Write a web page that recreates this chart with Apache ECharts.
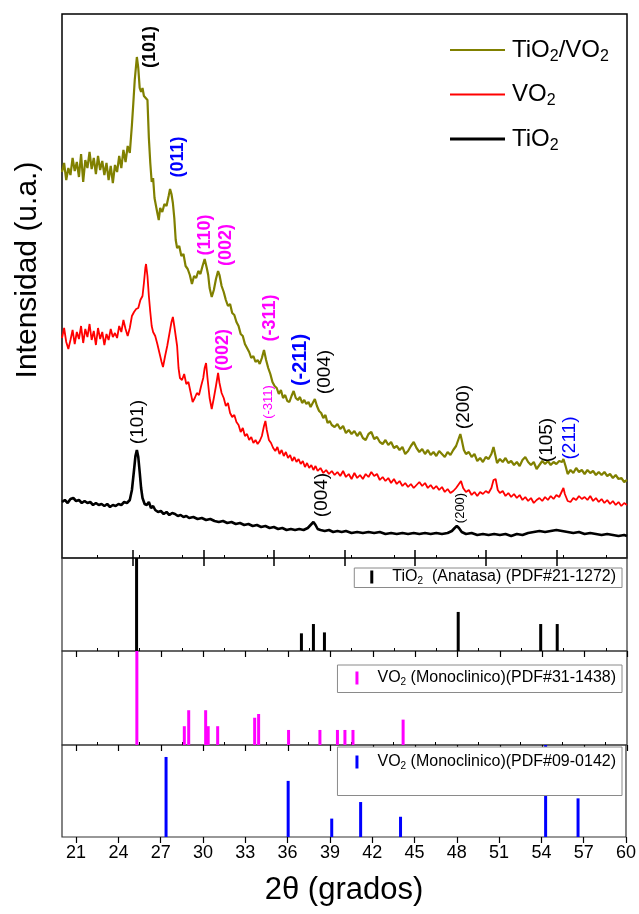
<!DOCTYPE html>
<html>
<head>
<meta charset="utf-8">
<script src="https://cdn.jsdelivr.net/npm/echarts@6/dist/echarts.min.js"></script>
<style>html,body{margin:0;padding:0;background:#fff}#c{width:639px;height:914px}</style>
</head>
<body>
<div id="c"></div>
<script>
// ---- data: 2θ (degrees), intensity (a.u.) ----
const tio2vo2 = [[20.0,386],[20.15,395],[20.3,378],[20.45,390],[20.6,383],[20.75,400],[20.9,387],[21.05,396],[21.2,381],[21.35,404],[21.5,376],[21.65,398],[21.8,390],[21.95,406],[22.1,389],[22.25,400],[22.4,384],[22.55,402],[22.7,388],[22.85,397],[23.0,383],[23.15,395],[23.3,378],[23.45,392],[23.6,375],[23.75,393],[23.9,386],[24.05,402],[24.2,390],[24.35,408],[24.5,396],[24.65,412],[24.8,405],[24.95,433],[25.05,455],[25.15,478],[25.3,501],[25.4,490],[25.5,470],[25.6,466],[25.7,470],[25.8,462],[25.9,464],[26.05,458],[26.15,420],[26.25,395],[26.35,376],[26.45,380],[26.55,360],[26.65,362],[26.75,345],[26.85,338],[26.95,350],[27.1,346],[27.25,354],[27.4,352],[27.55,362],[27.65,369],[27.75,364],[27.85,355],[27.95,340],[28.05,318],[28.15,310],[28.3,312],[28.45,302],[28.6,304],[28.75,292],[28.9,289],[29.05,283],[29.2,274],[29.35,282],[29.5,280],[29.65,287],[29.8,284],[29.95,292],[30.1,299],[30.25,290],[30.35,283],[30.45,270],[30.6,261],[30.75,268],[30.9,279],[31.05,287],[31.15,283],[31.3,272],[31.45,266],[31.6,258],[31.75,252],[31.9,254],[32.05,245],[32.2,243],[32.35,236],[32.5,232],[32.65,224],[32.8,222],[32.95,214],[33.1,210],[33.25,206],[33.4,200],[33.55,202],[33.7,196],[33.85,198],[34.0,194],[34.15,200],[34.3,208],[34.45,198],[34.6,190],[34.75,184],[34.9,176],[35.05,172],[35.2,170],[35.35,164],[35.5,168],[35.65,160],[35.8,163],[35.95,157],[36.1,156],[36.25,162],[36.4,167],[36.55,160],[36.7,158],[36.85,161],[37.0,155],[37.15,158],[37.3,154],[37.45,156],[37.6,151],[37.75,155],[37.9,159],[38.05,152],[38.2,147],[38.35,145],[38.5,140],[38.65,143],[38.8,135],[38.95,137],[39.1,133],[39.3,131],[39.5,134],[39.7,129],[39.9,132],[40.1,125],[40.3,128],[40.5,124],[40.7,127],[40.9,122],[41.1,126],[41.3,120],[41.5,118],[41.7,124],[41.9,126],[42.1,119],[42.3,121],[42.5,116],[42.7,114],[42.9,118],[43.1,113],[43.3,116],[43.5,110],[43.7,112],[43.9,108],[44.1,111],[44.3,104],[44.5,107],[44.7,112],[44.9,116],[45.1,110],[45.3,106],[45.5,109],[45.7,104],[45.9,108],[46.1,103],[46.3,106],[46.5,102],[46.7,107],[46.9,104],[47.1,101],[47.3,106],[47.5,103],[47.7,108],[47.9,112],[48.1,120],[48.2,124],[48.3,118],[48.45,108],[48.6,104],[48.8,106],[49.0,101],[49.2,104],[49.4,97],[49.6,100],[49.8,96],[50.0,101],[50.2,99],[50.4,104],[50.55,111],[50.65,109],[50.8,95],[51.0,99],[51.2,96],[51.4,100],[51.6,95],[51.8,97],[52.0,93],[52.2,96],[52.4,92],[52.6,98],[52.8,101],[53.0,96],[53.2,93],[53.4,96],[53.6,89],[53.8,93],[54.0,97],[54.2,94],[54.4,97],[54.6,93],[54.8,96],[55.0,94],[55.2,97],[55.4,96],[55.5,99],[55.65,92],[55.8,84],[56.0,88],[56.2,85],[56.4,90],[56.6,86],[56.8,88],[57.0,84],[57.2,88],[57.4,85],[57.6,87],[57.8,83],[58.0,86],[58.2,83],[58.4,86],[58.6,82],[58.8,84],[59.0,80],[59.2,83],[59.4,79],[59.6,80],[59.8,76],[60.0,78]];

const vo2 = [[20.0,220],[20.15,230],[20.3,216],[20.45,209],[20.6,218],[20.75,228],[20.9,214],[21.05,226],[21.2,219],[21.35,232],[21.5,215],[21.65,229],[21.8,221],[21.95,234],[22.1,218],[22.25,227],[22.4,213],[22.55,230],[22.7,219],[22.85,226],[23.0,213],[23.15,224],[23.3,218],[23.45,229],[23.6,221],[23.75,225],[23.9,220],[24.05,232],[24.2,226],[24.35,238],[24.5,229],[24.65,222],[24.8,230],[24.95,242],[25.1,246],[25.25,249],[25.4,250],[25.55,258],[25.7,262],[25.8,275],[25.9,290],[25.95,294],[26.05,282],[26.15,262],[26.25,246],[26.35,232],[26.45,226],[26.6,222],[26.75,214],[26.9,205],[27.05,196],[27.15,191],[27.3,202],[27.45,212],[27.6,224],[27.75,236],[27.85,241],[27.95,232],[28.05,222],[28.15,212],[28.25,190],[28.35,180],[28.5,178],[28.65,184],[28.8,174],[28.95,176],[29.1,166],[29.25,156],[29.4,160],[29.55,165],[29.7,163],[29.85,172],[30.0,180],[30.1,190],[30.2,195],[30.3,180],[30.45,160],[30.6,149],[30.75,160],[30.9,172],[31.05,185],[31.15,175],[31.3,165],[31.45,160],[31.6,152],[31.75,155],[31.9,145],[32.05,141],[32.2,143],[32.35,136],[32.5,133],[32.65,126],[32.8,130],[32.95,122],[33.1,124],[33.25,118],[33.4,121],[33.55,115],[33.7,118],[33.85,114],[34.0,117],[34.15,122],[34.3,132],[34.4,137],[34.5,128],[34.65,118],[34.8,115],[34.95,110],[35.1,107],[35.25,111],[35.4,104],[35.55,108],[35.7,102],[35.85,106],[36.0,100],[36.15,103],[36.3,97],[36.45,101],[36.6,96],[36.75,99],[36.9,94],[37.05,97],[37.2,91],[37.35,95],[37.5,90],[37.65,93],[37.8,88],[37.95,92],[38.1,87],[38.3,90],[38.5,85],[38.7,88],[38.9,84],[39.1,87],[39.3,83],[39.5,86],[39.7,82],[39.9,87],[40.1,81],[40.3,84],[40.5,79],[40.7,85],[40.9,80],[41.1,83],[41.3,79],[41.5,84],[41.7,81],[41.9,86],[42.1,82],[42.3,84],[42.5,78],[42.7,81],[42.9,77],[43.1,80],[43.3,75],[43.5,79],[43.7,74],[43.9,77],[44.1,72],[44.3,75],[44.5,71],[44.7,74],[44.9,70],[45.1,73],[45.3,76],[45.5,72],[45.7,75],[45.9,70],[46.1,73],[46.3,69],[46.5,72],[46.7,68],[46.9,71],[47.1,66],[47.3,69],[47.5,65],[47.7,67],[47.9,70],[48.1,74],[48.25,77],[48.4,70],[48.6,66],[48.8,68],[49.0,63],[49.2,66],[49.4,62],[49.6,66],[49.8,64],[50.0,67],[50.2,65],[50.4,70],[50.55,78],[50.7,79],[50.85,68],[51.0,65],[51.2,67],[51.4,62],[51.6,65],[51.8,61],[52.0,64],[52.2,60],[52.4,63],[52.6,58],[52.8,61],[53.0,57],[53.2,60],[53.4,55],[53.6,58],[53.8,60],[54.0,57],[54.2,61],[54.4,58],[54.6,62],[54.8,59],[55.0,63],[55.2,61],[55.4,67],[55.5,70],[55.6,64],[55.8,57],[56.0,56],[56.2,60],[56.4,58],[56.6,62],[56.8,59],[57.0,61],[57.2,58],[57.4,62],[57.6,57],[57.8,60],[58.0,56],[58.2,59],[58.4,55],[58.6,58],[58.8,54],[59.0,57],[59.2,53],[59.4,56],[59.6,52],[59.8,55],[60.0,53]];

const tio2 = [[20.0,56],[20.2,58],[20.4,55],[20.6,59],[20.8,60],[21.0,57],[21.2,58],[21.4,55],[21.6,57],[21.8,55],[22.0,56],[22.2,53],[22.4,55],[22.6,53],[22.8,54],[23.0,52],[23.2,54],[23.4,51],[23.6,53],[23.8,52],[24.0,54],[24.2,53],[24.4,56],[24.6,55],[24.8,58],[24.95,68],[25.1,88],[25.2,102],[25.3,108],[25.4,101],[25.5,86],[25.6,70],[25.7,60],[25.85,54],[26.0,53],[26.15,56],[26.3,50],[26.45,52],[26.6,48],[26.8,46],[27.0,47],[27.2,44],[27.4,46],[27.6,43],[27.8,45],[28.0,44],[28.2,42],[28.4,43],[28.6,41],[28.8,42],[29.0,40],[29.3,41],[29.6,39],[29.9,40],[30.2,38],[30.5,39],[30.8,37],[31.1,36],[31.4,37],[31.7,35],[32.0,36],[32.3,34],[32.6,35],[32.9,33],[33.2,34],[33.5,32],[33.8,33],[34.1,31],[34.4,32],[34.7,30],[35.0,31],[35.3,29],[35.6,30],[35.9,28],[36.2,29],[36.5,28],[36.8,29],[37.1,28],[37.4,30],[37.6,33],[37.8,36],[37.95,33],[38.1,29],[38.3,28],[38.6,27],[38.9,28],[39.2,26],[39.5,27],[39.8,26],[40.1,27],[40.5,25],[40.9,26],[41.3,25],[41.7,26],[42.1,25],[42.5,26],[42.9,24],[43.3,25],[43.7,24],[44.1,25],[44.5,24],[44.9,25],[45.3,24],[45.7,25],[46.1,24],[46.5,25],[46.9,24],[47.3,25],[47.6,27],[47.8,30],[47.95,32],[48.1,30],[48.3,26],[48.6,24],[49.0,25],[49.4,23],[49.8,24],[50.2,23],[50.6,24],[51.0,23],[51.4,24],[51.8,22],[52.2,24],[52.6,23],[53.0,25],[53.4,26],[53.8,27],[54.2,26],[54.6,27],[55.0,28],[55.4,27],[55.8,26],[56.2,25],[56.6,26],[57.0,24],[57.4,25],[57.8,24],[58.2,23],[58.6,24],[59.0,23],[59.4,22],[59.8,23],[60.0,22]];

// reference patterns: [2θ, relative intensity %]
const anataseRef = [[25.28,100],[36.95,19],[37.80,29],[38.58,20],[48.05,42],[53.89,29],[55.06,29]];
const vo2Ref31 = [[25.30,100],[28.66,20],[28.97,37],[30.17,37],[30.35,20],[31.02,20],[33.64,29],[33.92,33],[36.04,16],[38.26,16],[39.50,16],[40.03,16],[40.60,16],[44.15,27]];
const vo2Ref09 = [[27.38,87],[36.04,61],[39.13,20],[41.18,38],[44.01,22],[54.30,100],[56.60,42]];

// tick labels
const tickLabels = [21,24,27,30,33,36,39,42,45,48,51,54,57,60];
const minorTicks = [22.5,25.5,28.5,31.5,34.5,37.5,40.5,43.5,46.5,49.5,52.5,55.5,58.5];
const topTicks = [25,30,35,40,45,50,55];

// peak annotations: text, anchor (2θ, intensity), phase
const peakLabels = [
  {text:'(101)', x:26.23, y:511, phase:'A', kind:'b'},
  {text:'(011)', x:28.21, y:401, phase:'V09', kind:'b'},
  {text:'(110)', x:30.12, y:323, phase:'V31', kind:'b'},
  {text:'(002)', x:31.61, y:313, phase:'V31', kind:'b'},
  {text:'(-311)', x:34.73, y:240, phase:'V31', kind:'b'},
  {text:'(-211)', x:36.85, y:198, phase:'V09', kind:'bl'},
  {text:'(004)', x:38.62, y:186, phase:'A', kind:'n'},
  {text:'(200)', x:48.46, y:151, phase:'A', kind:'n'},
  {text:'(105)', x:54.34, y:118, phase:'A', kind:'n'},
  {text:'(211)', x:55.96, y:120, phase:'V09', kind:'n'},
  {text:'(002)', x:31.40, y:208, phase:'V31', kind:'b'},
  {text:'(-311)', x:34.58, y:156, phase:'V31', kind:'s'},
  {text:'(101)', x:25.38, y:136, phase:'A', kind:'n'},
  {text:'(004)', x:38.41, y:63, phase:'A', kind:'n'},
  {text:'(200)', x:48.18, y:50, phase:'A', kind:'s'}
];

// ---- styling ----
const FF = '"Liberation Sans", Arial, sans-serif';
const phaseColor = {A:'#000000', V31:'#ff00ff', V09:'#0000ff'};
const kindFont = {b:'bold 18px '+FF, bl:'bold 20px '+FF, n:'19px '+FF, s:'13px '+FF};

const chart = echarts.init(document.getElementById('c'), null, {renderer:'canvas'});

const grids = [
  {left:62, right:12, top:14, height:544},
  {left:62, right:12, top:558, height:93},
  {left:62, right:12, top:651, height:94},
  {left:62, right:12, top:745, height:92}
].map((g,i)=>Object.assign(g,{show:true, borderColor: i===0?'#000':'#333', borderWidth: i===0?1.5:1.2, backgroundColor:'transparent'}));

function baseX(grid){
  return {type:'value', gridIndex:grid, min:20, max:60, axisLine:{show:false}, splitLine:{show:false}, axisLabel:{show:false}, axisTick:{show:false}};
}
const xAxes = [];
xAxes.push(Object.assign(baseX(0), {interval:5, axisTick:{show:true, inside:true, length:8, customValues: topTicks, lineStyle:{color:'#000', width:1.5}}}));
const majorIdx = [];
for (let g=1; g<=3; g++){
  const isBottom = g===3;
  majorIdx.push(xAxes.length);
  const ax = baseX(g);
  ax.axisTick = {show:true, inside:false, length:6, customValues: tickLabels, lineStyle:{color:'#000', width:1.2}};
  if (isBottom){
    ax.axisLabel = {show:true, customValues: tickLabels, fontSize:18, color:'#000', fontFamily:FF, margin:7};
    ax.name = '2θ (grados)';
    ax.nameLocation = 'middle';
    ax.nameGap = 38;
    ax.nameTextStyle = {fontSize:31, color:'#000', fontFamily:FF};
  }
  xAxes.push(ax);
  const mn = baseX(g);
  mn.axisTick = {show:true, inside:false, length:3, customValues: minorTicks, lineStyle:{color:'#000', width:1}};
  xAxes.push(mn);
}
xAxes.push(Object.assign(baseX(1), {position:'top', axisTick:{show:true, inside:true, length:8, customValues: topTicks, lineStyle:{color:'#000', width:1.5}}}));

const yAxes = [
  {type:'value', gridIndex:0, min:0, max:544, show:false},
  {type:'value', gridIndex:1, min:0, max:100, show:false},
  {type:'value', gridIndex:2, min:0, max:100, show:false},
  {type:'value', gridIndex:3, min:0, max:100, show:false}
];

const legendNames = {
  'TiO2/VO2':'{m|TiO}{s|2}{m|/VO}{s|2}',
  'VO2':'{m|VO}{s|2}',
  'TiO2':'{m|TiO}{s|2}',
  'TiO2 (Anatasa) (PDF#21-1272)':'{m|TiO}{s|2}{m|  (Anatasa) (PDF#21-1272)}',
  'VO2 (Monoclinico)(PDF#31-1438)':'{m|VO}{s|2}{m| (Monoclinico)(PDF#31-1438)}',
  'VO2 (Monoclinico)(PDF#09-0142)':'{m|VO}{s|2}{m| (Monoclinico)(PDF#09-0142)}'
};
const fmt = n => legendNames[n] || n;

function stickSeries(name, data, xi, yi, color){
  return {type:'bar', name, data, xAxisIndex:xi, yAxisIndex:yi, barWidth:3, itemStyle:{color}, silent:true, animation:false};
}

const boxLegend = (name, top, pad) => ({
  data:[name], orient:'horizontal', right:17, top, icon:'rect', itemWidth:3, itemHeight:13,
  borderColor:'#8a8a8a', borderWidth:1, backgroundColor:'#fff', padding:pad, formatter:fmt,
  selectedMode:false,
  textStyle:{color:'#000', fontFamily:FF, padding:[0,0,0,14], rich:{m:{fontSize:16, fontFamily:FF, color:'#000'}, s:{fontSize:10, fontFamily:FF, color:'#000', padding:[9,0,0,0]}}}
});

const option = {
  animation:false,
  backgroundColor:'#fff',
  grid: grids,
  xAxis: xAxes,
  yAxis: yAxes,
  legend: [
    {data:[{name:'TiO2/VO2', icon:'path://M0,0h55v2h-55z'}, {name:'VO2', icon:'path://M0,0h55v2h-55z'}, {name:'TiO2', icon:'path://M0,0h55v3h-55z'}],
     orient:'vertical', left:450, top:38, padding:0, itemWidth:55, itemHeight:3, itemGap:18, selectedMode:false, formatter:fmt,
     textStyle:{color:'#000', fontFamily:FF, padding:[0,0,0,2], rich:{m:{fontSize:24, fontFamily:FF, color:'#000'}, s:{fontSize:16, fontFamily:FF, color:'#000', padding:[13,0,0,0]}}}},
    boxLegend('TiO2 (Anatasa) (PDF#21-1272)', 568, [1,6,1,16]),
    boxLegend('VO2 (Monoclinico)(PDF#31-1438)', 665, [5,6,5,18]),
    boxLegend('VO2 (Monoclinico)(PDF#09-0142)', 747, [7,6,24,18])
  ],
  series: [
    {type:'line', name:'TiO2/VO2', data:tio2vo2, xAxisIndex:0, yAxisIndex:0, symbol:'none', lineStyle:{color:'#808000', width:2.2}, itemStyle:{color:'#808000'}},
    {type:'line', name:'VO2', data:vo2, xAxisIndex:0, yAxisIndex:0, symbol:'none', lineStyle:{color:'#ff0000', width:1.8}, itemStyle:{color:'#ff0000'}},
    {type:'line', name:'TiO2', data:tio2, xAxisIndex:0, yAxisIndex:0, symbol:'none', lineStyle:{color:'#000', width:2.6}, itemStyle:{color:'#000'}},
    stickSeries('TiO2 (Anatasa) (PDF#21-1272)', anataseRef, majorIdx[0], 1, '#000'),
    stickSeries('VO2 (Monoclinico)(PDF#31-1438)', vo2Ref31, majorIdx[1], 2, '#ff00ff'),
    stickSeries('VO2 (Monoclinico)(PDF#09-0142)', vo2Ref09, majorIdx[2], 3, '#0000ff')
  ]
};
chart.setOption(option);

const graphics = [{
  type:'text', x:28, y:270, rotation:Math.PI/2,
  style:{text:'Intensidad (u.a.)', font:'30px '+FF, fill:'#000', align:'center', verticalAlign:'middle'}
}];
peakLabels.forEach(p=>{
  const pt = chart.convertToPixel({xAxisIndex:0, yAxisIndex:0}, [p.x, p.y]);
  graphics.push({type:'text', x:pt[0], y:pt[1], rotation:Math.PI/2, z:10,
    style:{text:p.text, font:kindFont[p.kind], fill:phaseColor[p.phase], align:'center', verticalAlign:'middle'}});
});
chart.setOption({graphic: graphics});
</script>
</body>
</html>
